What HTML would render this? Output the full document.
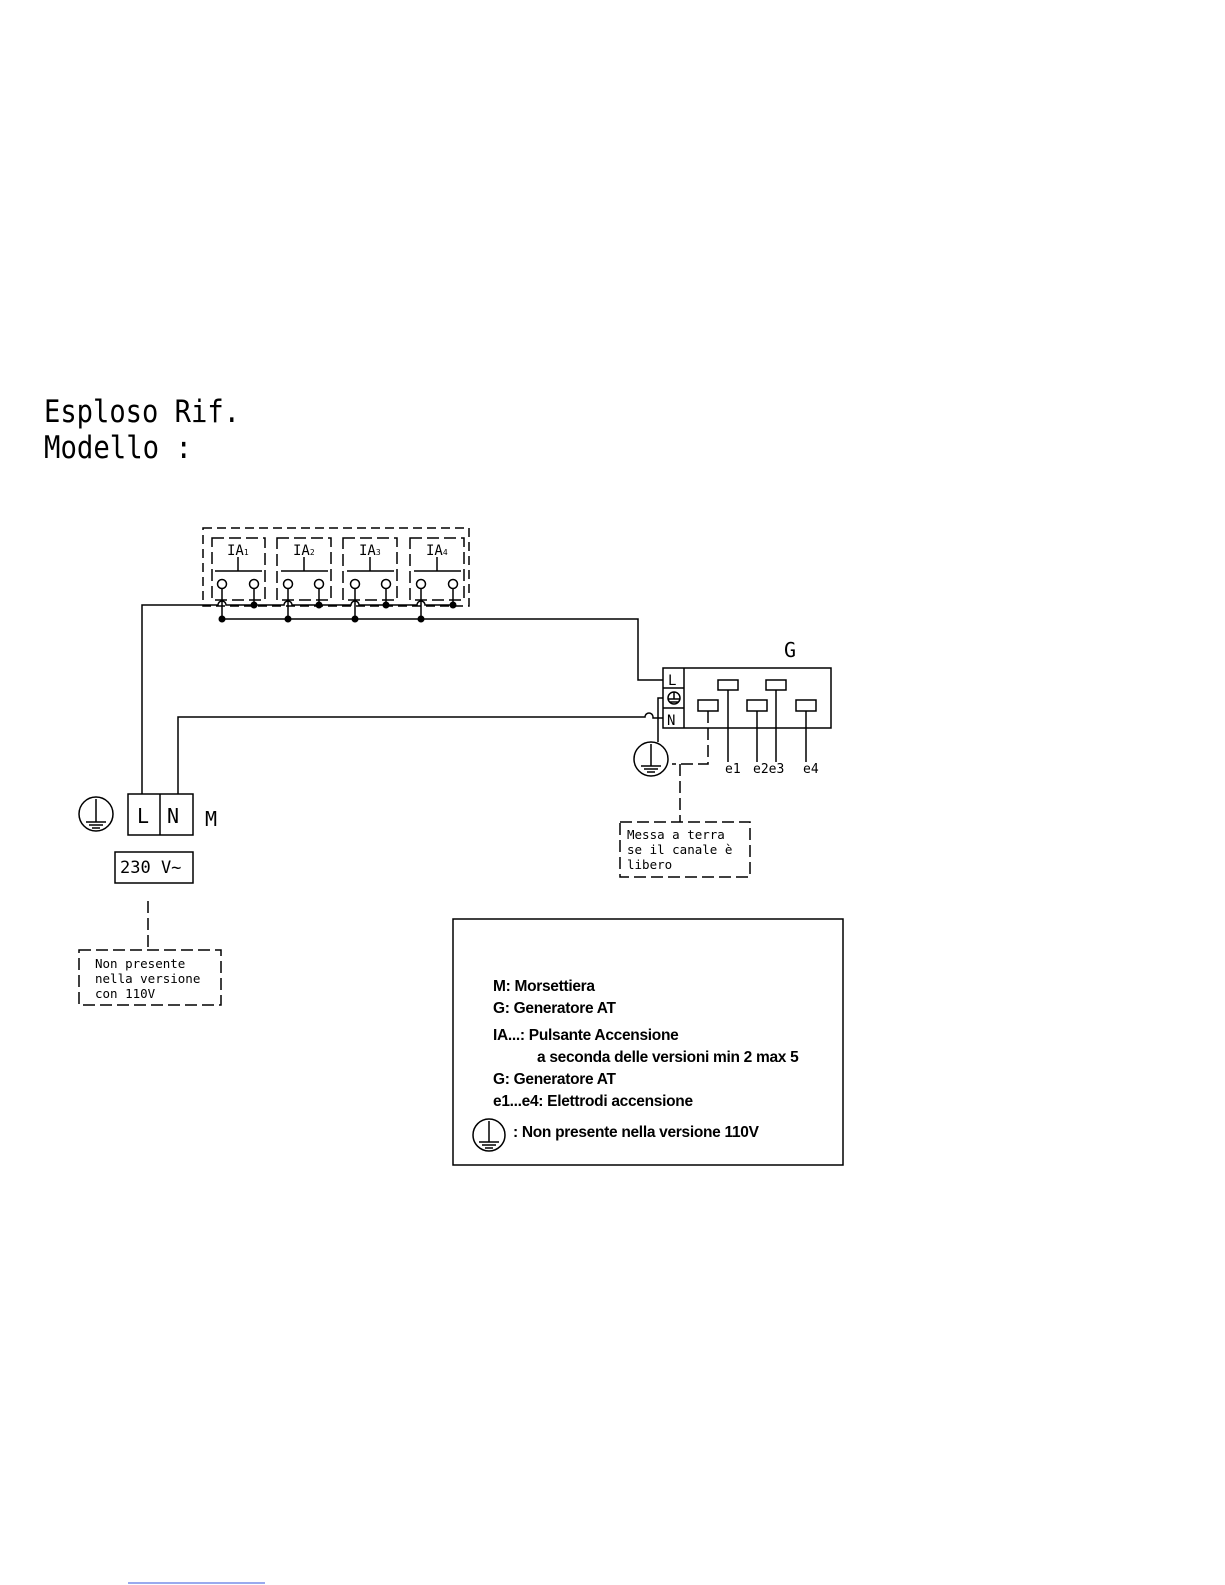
<!DOCTYPE html>
<html><head><style>
html,body{margin:0;padding:0;background:#fff;}
svg{display:block;}
.c{font-family:"DejaVu Sans Mono","Liberation Mono",monospace;}
.s{font-family:"Liberation Sans",sans-serif;font-weight:bold;letter-spacing:-0.3px;}
</style></head><body>
<svg width="1225" height="1585" viewBox="0 0 1225 1585" xmlns="http://www.w3.org/2000/svg">
<text x="44" y="422" class="c" font-size="31" fill="#000" textLength="196" lengthAdjust="spacingAndGlyphs">Esploso Rif.</text>
<text x="44" y="458" class="c" font-size="31" fill="#000" textLength="148" lengthAdjust="spacingAndGlyphs">Modello :</text>
<g stroke="#000" stroke-width="1.5" fill="none">
<rect x="203" y="528" width="266" height="78" stroke-dasharray="9,5"/>
<g stroke-dasharray="12,5">
<rect x="212" y="538" width="53" height="62"/><rect x="277" y="538" width="54" height="62"/>
<rect x="343" y="538" width="54" height="62"/><rect x="410" y="538" width="54" height="62"/>
</g>
<g stroke-dasharray="none">
<path d="M215 571H262M238 571V557"/><path d="M281 571H328M304 571V557"/>
<path d="M347 571H394M370 571V557"/><path d="M414 571H461M437 571V557"/>
<circle cx="222" cy="584" r="4.5"/><circle cx="254" cy="584" r="4.5"/>
<circle cx="288" cy="584" r="4.5"/><circle cx="319" cy="584" r="4.5"/>
<circle cx="355" cy="584" r="4.5"/><circle cx="386" cy="584" r="4.5"/>
<circle cx="421" cy="584" r="4.5"/><circle cx="453" cy="584" r="4.5"/>
<path d="M222 589V619M254 589V605M288 589V619M319 589V605M355 589V619M386 589V605M421 589V619M453 589V605"/>
<path d="M142 794V605H218A4 4 0 0 1 226 605H284A4 4 0 0 1 292 605H351A4 4 0 0 1 359 605H417A4 4 0 0 1 425 605H453"/>
<path d="M222 619H638V680H663"/>
<path d="M178 794V717H645A4 4 0 0 1 653 717V718H663"/>
<rect x="663" y="668" width="168" height="60"/>
<path d="M684 668V728M663 688H684M663 708H684"/>
<circle cx="674" cy="698" r="6"/><path d="M674 692V699M668 699H680M670 702H678"/>
<rect x="718" y="680" width="20" height="10"/><rect x="766" y="680" width="20" height="10"/>
<rect x="698" y="700" width="20" height="11"/><rect x="747" y="700" width="20" height="11"/><rect x="796" y="700" width="20" height="11"/>
<path d="M728 690V762M757 711V762M776 690V762M806 711V762"/>
<path d="M663 698H658V742"/>
<circle cx="651" cy="759" r="17"/><path d="M651 744V766M641 766H661M644 769H658M647 772H655"/>
<path d="M708 711V764H672" stroke-dasharray="12,5"/>
<path d="M680 764V822" stroke-dasharray="12,5"/>
<rect x="620" y="822" width="130" height="55" stroke-dasharray="12,5"/>
<rect x="128" y="794" width="65" height="41"/><path d="M160 794V835"/>
<circle cx="96" cy="814" r="17"/><path d="M96 799V822M86 822H106M89 825H103M92 828H100"/>
<rect x="115" y="852" width="78" height="31"/>
<path d="M148 901V948" stroke-dasharray="12,5"/>
<rect x="79" y="950" width="142" height="55" stroke-dasharray="12,5"/>
<rect x="453" y="919" width="390" height="246"/>
<circle cx="489" cy="1135" r="16"/><path d="M489 1121V1142M479 1142H499M482 1145H496M485 1148H493"/>
</g>
</g>
<g fill="#000">
<circle cx="254" cy="605" r="3.5"/><circle cx="319" cy="605" r="3.5"/><circle cx="386" cy="605" r="3.5"/><circle cx="453" cy="605" r="3.5"/>
<circle cx="222" cy="619" r="3.5"/><circle cx="288" cy="619" r="3.5"/><circle cx="355" cy="619" r="3.5"/><circle cx="421" cy="619" r="3.5"/>
</g>
<g class="c" fill="#000" font-size="14">
<text x="227" y="555">IA<tspan font-size="8">1</tspan></text>
<text x="293" y="555">IA<tspan font-size="8">2</tspan></text>
<text x="359" y="555">IA<tspan font-size="8">3</tspan></text>
<text x="426" y="555">IA<tspan font-size="8">4</tspan></text>
<text x="784" y="657" font-size="20">G</text>
<text x="668" y="685">L</text><text x="667" y="725">N</text>
<text x="725" y="773" font-size="13">e1</text><text x="753" y="773" font-size="13">e2e3</text><text x="803" y="773" font-size="13">e4</text>
<text x="627" y="839" font-size="12.5">Messa a terra</text>
<text x="627" y="854" font-size="12.5">se il canale è</text>
<text x="627" y="869" font-size="12.5">libero</text>
<text x="137" y="823" font-size="20">L</text><text x="167" y="823" font-size="20">N</text>
<text x="205" y="826" font-size="20">M</text>
<text x="120" y="873" font-size="17">230 V~</text>
<text x="95" y="968" font-size="12.5">Non presente</text>
<text x="95" y="983" font-size="12.5">nella versione</text>
<text x="95" y="998" font-size="12.5">con 110V</text>
</g>
<g class="s" fill="#000" font-size="15.5">
<text x="493" y="991">M: Morsettiera</text>
<text x="493" y="1013">G: Generatore AT</text>
<text x="493" y="1040">IA...:  Pulsante Accensione</text>
<text x="537" y="1062">a seconda delle versioni min 2 max 5</text>
<text x="493" y="1084">G: Generatore AT</text>
<text x="493" y="1106">e1...e4: Elettrodi accensione</text>
<text x="513" y="1137">: Non presente nella versione 110V</text>
</g>
<line x1="128" y1="1583" x2="265" y2="1583" stroke="#3355dd" stroke-width="1"/>
</svg>
</body></html>
